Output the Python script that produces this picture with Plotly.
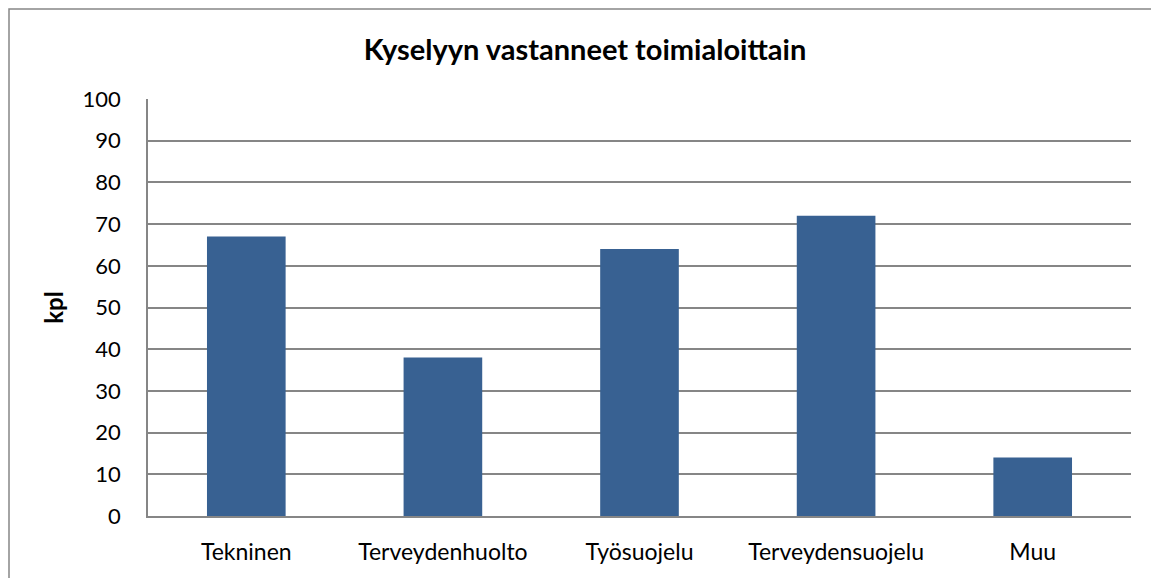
import plotly.graph_objects as go

categories = ["Tekninen", "Terveydenhuolto", "Työsuojelu", "Terveydensuojelu", "Muu"]
values = [67, 38, 64, 72, 14]
y_ticks = [0, 10, 20, 30, 40, 50, 60, 70, 80, 90, 100]

# page body has an 8px margin; work in figure coordinates
OFF = 8
W, H = 1159 - OFF, 578 - OFF
L, R, T, B = 148 - OFF, 1131 - OFF, 99 - OFF, 516 - OFF
pw, ph = R - L, B - T

fig = go.Figure(go.Bar(x=categories, y=values, marker=dict(color="#386192", line=dict(width=0)), width=0.4))

font = "Lato, Open Sans, sans-serif"
fig.update_layout(
    width=W, height=H,
    margin=dict(l=L, r=W - R, t=T, b=H - B, pad=0),
    paper_bgcolor="white", plot_bgcolor="white",
    showlegend=False,
    font=dict(family=font, size=20, color="black"),
    title=dict(text="<b>Kyselyyn vastanneet toimialoittain</b>", x=(585 - OFF) / W, xanchor="center",
               y=1 - (50 - OFF) / H, yanchor="middle", font=dict(size=29, family=font)),
    xaxis=dict(showgrid=False, showline=True, linecolor="#868686", linewidth=1.5,
               ticks="", ticklabelstandoff=15, tickfont=dict(size=23)),
    yaxis=dict(range=[0, 100], tickvals=y_ticks, showgrid=True, gridcolor="#868686", gridwidth=1.5,
               showline=True, linecolor="#868686", linewidth=1.5, zeroline=False,
               ticks="", ticklabelstandoff=21, tickfont=dict(size=22),
               title=dict(text="<b>kpl</b>", standoff=12, font=dict(size=24))),
    shapes=[dict(type="rect", xref="paper", yref="paper",
                 x0=(1 - L) / pw, x1=(W + 20 - L) / pw,
                 y0=(B - (H + 20)) / ph, y1=(B - 1) / ph,
                 line=dict(color="#868686", width=1.5), fillcolor="rgba(0,0,0,0)", layer="below")],
)

fig.write_html("out.html")
